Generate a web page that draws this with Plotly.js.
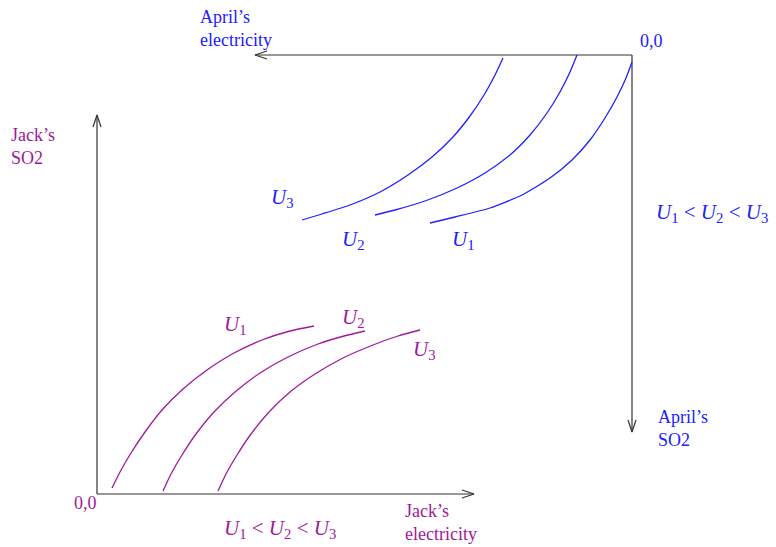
<!DOCTYPE html>
<html><head><meta charset="utf-8">
<script src="https://cdn.plot.ly/plotly-3.0.1.min.js"></script>
<style>html,body{margin:0;padding:0;background:#fff}</style>
</head><body><div id="chart" style="width:776px;height:547px"></div>
<script>
// April's indifference curves (blue), drawn in the page's coordinate frame
const aprilU1x = [632, 626, 617, 605, 590, 572, 550, 522, 490, 455, 430];
const aprilU1y = [62, 78, 97, 118, 140, 160, 178, 195, 208, 217, 223];
const aprilU2x = [577, 570, 560, 547, 530, 510, 485, 457, 425, 395, 375];
const aprilU2y = [55, 72, 92, 113, 135, 155, 173, 188, 201, 210, 215];
const aprilU3x = [503, 495, 484, 470, 453, 432, 408, 380, 350, 322, 302];
const aprilU3y = [58, 75, 95, 116, 137, 157, 175, 192, 205, 214, 220];
// Jack's indifference curves (purple)
const jackU1x = [112, 120, 131, 145, 162, 183, 207, 234, 262, 290, 314];
const jackU1y = [488, 472, 453, 432, 410, 389, 370, 353, 340, 331, 326];
const jackU2x = [163, 171, 182, 196, 214, 235, 260, 288, 318, 344, 365];
const jackU2y = [491, 474, 455, 434, 412, 392, 373, 357, 344, 336, 331];
const jackU3x = [218, 226, 237, 251, 269, 290, 315, 343, 373, 398, 420];
const jackU3y = [491, 474, 455, 434, 412, 392, 374, 358, 345, 336, 330];

const blue = '#2020ff';
const purple = '#a0189c';
const axisCol = '#333333';

const jackOrigin = [97, 494], jackXEnd = 474, jackYEnd = 115;
const aprilOrigin = [632, 55], aprilXEnd = 255, aprilYEnd = 432;

function line(x, y, color, w) {
  return {x: x, y: y, mode: 'lines', type: 'scatter', hoverinfo: 'skip',
          line: {color: color, width: w, shape: 'spline', smoothing: 0.6}};
}
function seg(x, y) {
  return {x: x, y: y, mode: 'lines', type: 'scatter', hoverinfo: 'skip',
          line: {color: axisCol, width: 1.2}};
}
function arrowHead(tx, ty, dx, dy) {
  // open V arrow head at (tx,ty) pointing in direction (dx,dy)
  const L = 12, W = 4;
  const px = -dy, py = dx;
  return seg([tx - dx*L + px*W, tx, tx - dx*L - px*W],
             [ty - dy*L + py*W, ty, ty - dy*L - py*W]);
}

const traces = [
  seg([jackOrigin[0], jackXEnd], [jackOrigin[1], jackOrigin[1]]),
  seg([jackOrigin[0], jackOrigin[0]], [jackOrigin[1], jackYEnd]),
  arrowHead(jackXEnd, jackOrigin[1], 1, 0),
  arrowHead(jackOrigin[0], jackYEnd, 0, -1),
  seg([aprilOrigin[0], aprilXEnd], [aprilOrigin[1], aprilOrigin[1]]),
  seg([aprilOrigin[0], aprilOrigin[0]], [aprilOrigin[1], aprilYEnd]),
  arrowHead(aprilXEnd, aprilOrigin[1], -1, 0),
  arrowHead(aprilOrigin[0], aprilYEnd, 0, 1),
  line(aprilU1x, aprilU1y, blue, 1.3),
  line(aprilU2x, aprilU2y, blue, 1.3),
  line(aprilU3x, aprilU3y, blue, 1.3),
  line(jackU1x, jackU1y, purple, 1.3),
  line(jackU2x, jackU2y, purple, 1.3),
  line(jackU3x, jackU3y, purple, 1.3)
];

const U = n => '<i>U</i><sub>' + n + '</sub>';
const FONT = 'Liberation Serif, Times New Roman, serif';
function txt(x, y, text, color, size) {
  return {x: x, y: y, text: text, showarrow: false, xanchor: 'left', yanchor: 'middle',
          align: 'left', font: {family: FONT, size: size || 18, color: color}};
}
const ann = [
  txt(198, 28, "April’s<br>electricity", blue),
  txt(638, 41, "0,0", blue),
  txt(269, 198, U(3), blue, 21),
  txt(340, 240, U(2), blue, 21),
  txt(450, 240, U(1), blue, 21),
  txt(654, 213, U(1) + ' &lt; ' + U(2) + ' &lt; ' + U(3), blue, 21),
  txt(656, 428, "April’s<br>SO2", blue),
  txt(9, 146, "Jack’s<br>SO2", purple),
  txt(72, 503, "0,0", purple),
  txt(222, 325, U(1), purple, 21),
  txt(340, 318, U(2), purple, 21),
  txt(411, 350, U(3), purple, 21),
  txt(222, 529, U(1) + ' &lt; ' + U(2) + ' &lt; ' + U(3), purple, 21),
  txt(403, 522, "Jack’s<br>electricity", purple)
];

const layout = {
  width: 776, height: 547,
  margin: {l: 0, r: 0, t: 0, b: 0},
  paper_bgcolor: '#fff', plot_bgcolor: '#fff',
  showlegend: false,
  xaxis: {range: [0, 776], visible: false, fixedrange: true},
  yaxis: {range: [547, 0], visible: false, fixedrange: true},
  annotations: ann
};
Plotly.newPlot('chart', traces, layout, {displayModeBar: false, staticPlot: true});
</script></body></html>
